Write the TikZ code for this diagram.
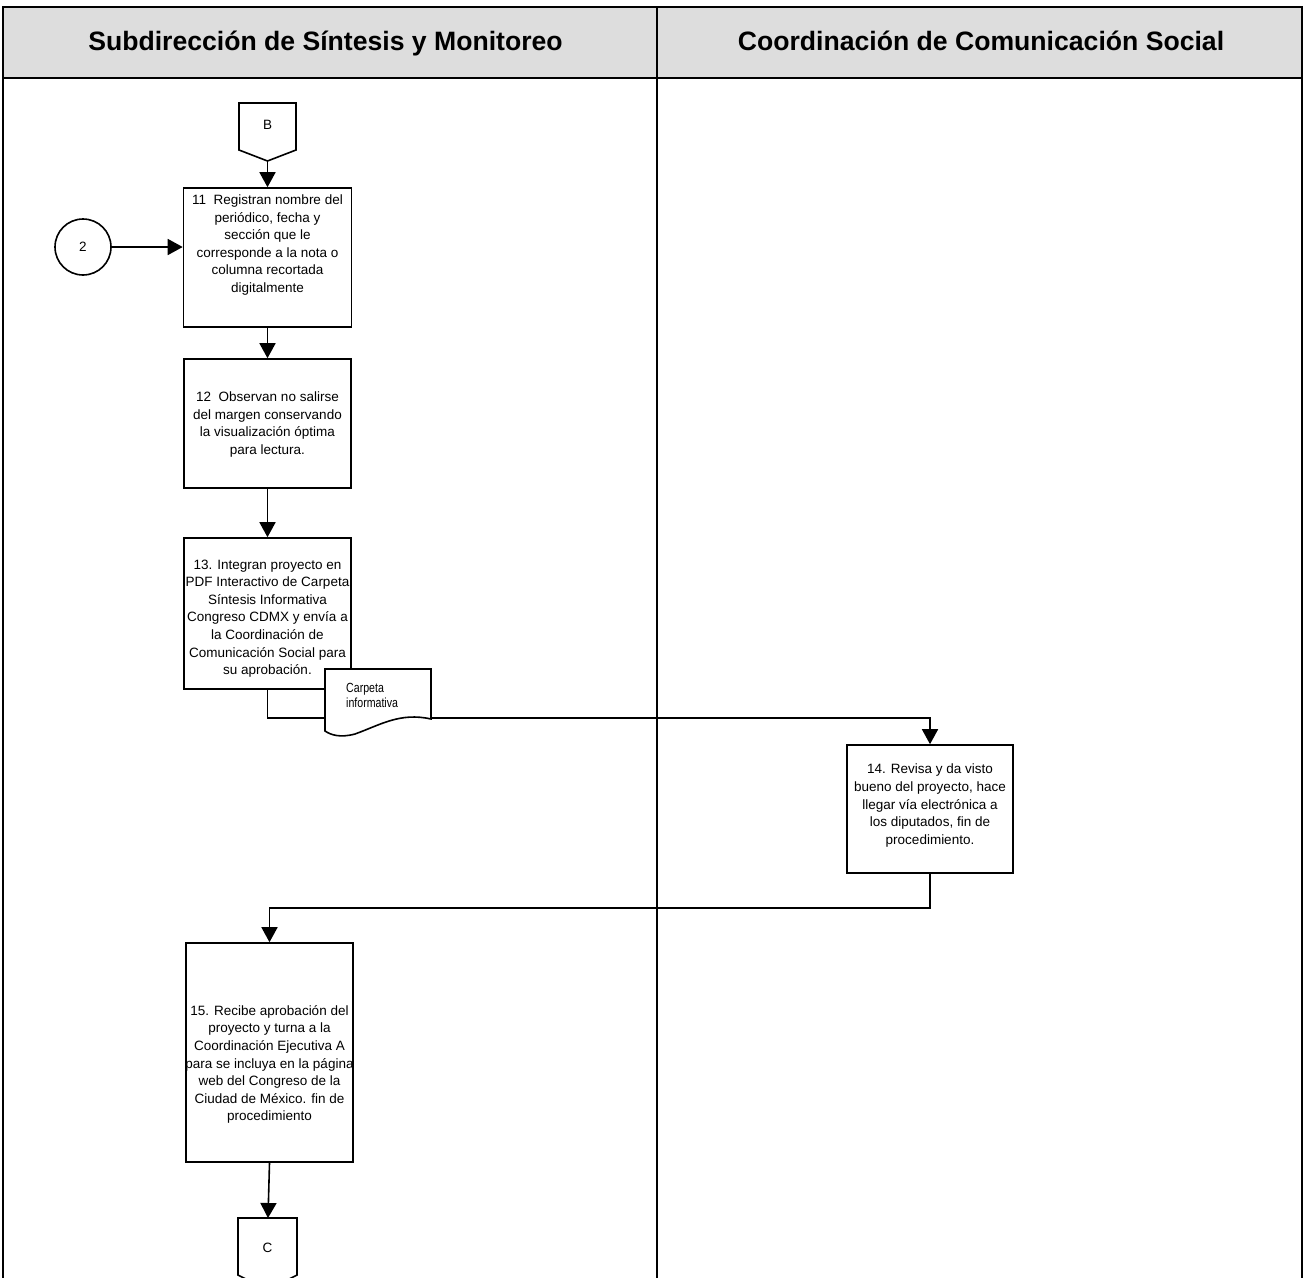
\documentclass[tikz,border=0pt]{standalone}
\usepackage{fontspec}
\usepackage{graphicx}
\setmainfont{Liberation Sans}
\usetikzlibrary{arrows.meta}
\definecolor{hdrfill}{RGB}{221,221,221}
\newcommand{\tallnote}[1]{\scalebox{1}[1.25]{\begin{tabular}{@{}l@{}}#1\end{tabular}}}
\begin{document}
\begin{tikzpicture}[x=1pt,y=-1pt,
  frame/.style={line width=1.4pt},
  stepbox/.style={draw,line width=1.6pt,fill=white,inner sep=0pt},
  steptext/.style={align=center,font=\fontsize{13.5}{17.6}\selectfont,inner sep=0pt},
  hdrtext/.style={font=\fontsize{26.6}{30}\selectfont\bfseries,anchor=base},
  arr/.style={line width=1.6pt,-{Triangle[length=15pt,width=16pt]}},
  link/.style={line width=1.6pt},
  offpage/.style={draw,line width=1.6pt,fill=white}]
\useasboundingbox (0,0) rectangle (1305,1277);

% swimlane frame
\fill[hdrfill] (3,7) rectangle (1302,78);
\draw[frame] (3,1290) -- (3,7) -- (1302,7) -- (1302,1290);
\draw[frame] (3,78) -- (1302,78);
\draw[frame] (657,7) -- (657,1290);
\node[hdrtext] (h1) at (325.5,50) {Subdirección de Síntesis y Monitoreo};
\node[hdrtext] (h2) at (981,50) {Coordinación de Comunicación Social};

% off-page connector B
\draw[offpage] (239,103) -- (296,103) -- (296,150) -- (267.5,161) -- (239,150) -- cycle;
\node[font=\fontsize{13.5}{15}\selectfont] (B) at (267.5,125) {B};
\coordinate (Bt) at (267.5,161);

% process boxes
\node[stepbox,minimum width=168pt,minimum height=139pt] (b11) at (267.5,257.5) {};
\node[steptext] (t11) at (267.5,245) {11\ \ Registran nombre del\\periódico, fecha y\\sección que le\\corresponde a la nota o\\columna recortada\\digitalmente};

\node[stepbox,minimum width=167pt,minimum height=129pt] (b12) at (267.5,423.5) {};
\node[steptext] (t12) at (267.5,424.5) {12\ \ Observan no salirse\\del margen conservando\\la visualización óptima\\para lectura.};

\node[stepbox,minimum width=167pt,minimum height=151pt] (b13) at (267.5,613.5) {};
\node[steptext] (t13) at (267.5,618.5) {13. Integran proyecto en\\PDF Interactivo de Carpeta\\Síntesis Informativa\\Congreso CDMX y envía a\\la Coordinación de\\Comunicación Social para\\su aprobación.};

\node[stepbox,minimum width=166pt,minimum height=128pt] (b14) at (930,809) {};
\node[steptext] (t14) at (930,805.5) {14. Revisa y da visto\\bueno del proyecto, hace\\llegar vía electrónica a\\los diputados, fin de\\procedimiento.};

\node[stepbox,minimum width=167pt,minimum height=219pt] (b15) at (269.5,1052.5) {};
\node[steptext] (t15) at (269.5,1064.5) {15. Recibe aprobación del\\proyecto y turna a la\\Coordinación Ejecutiva A\\para se incluya en la página\\web del Congreso de la\\Ciudad de México. fin de\\procedimiento};

% connector circle 2
\node[circle,draw,line width=1.6pt,minimum size=56pt,inner sep=0pt,font=\fontsize{13.5}{15}\selectfont] (c2) at (83,247) {2};

% document symbol
\coordinate (docL) at (325,718);
\coordinate (docR) at (431,718);
\draw[link] (b13.south) |- (docL);
\draw[offpage] (325,669) -- (431,669) -- (431,719)
  .. controls (400,712) and (380,725) .. (355,734)
  .. controls (340,738) and (331,735) .. (325,731) -- cycle;
\node[anchor=west,inner sep=0pt,font=\fontsize{10.6}{11.8}\selectfont] (doc) at (346,697) {\tallnote{Carpeta\\informativa}};

% off-page connector C
\draw[offpage] (238,1218) -- (297,1218) -- (297,1275) -- (267.5,1290) -- (238,1275) -- cycle;
\node[font=\fontsize{13.5}{15}\selectfont] (C) at (267.5,1248) {C};
\coordinate (Ct) at (268,1218);

% flow
\draw[arr] (Bt) -- (b11.north);
\draw[arr] (c2.east) -- (c2.east -| b11.west);
\draw[arr] (b11.south) -- (b12.north);
\draw[arr] (b12.south) -- (b13.north);
\draw[arr] (docR) -| (b14.north);
\draw[arr] (b14.south) -- (930,908) -| (b15.north);
\draw[arr] (b15.south) -- (Ct);
\end{tikzpicture}
\end{document}
